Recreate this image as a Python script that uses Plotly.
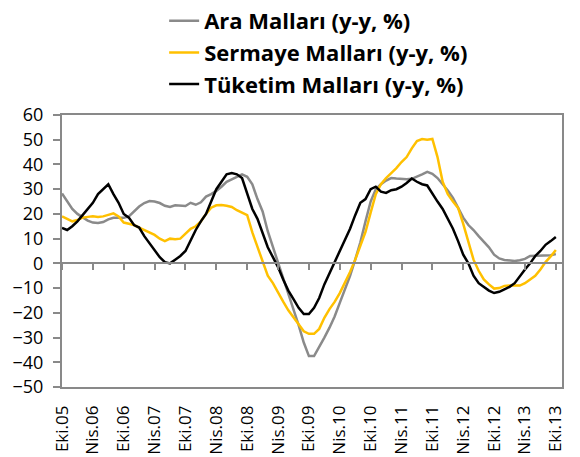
import plotly.graph_objects as go

# Monthly series, Oct 2005 - Oct 2013 (year-on-year % change)
month_labels = ["Eki.05", "Nis.06", "Eki.06", "Nis.07", "Eki.07", "Nis.08", "Eki.08",
                "Nis.09", "Eki.09", "Nis.10", "Eki.10", "Nis.11", "Eki.11", "Nis.12",
                "Eki.12", "Nis.13", "Eki.13"]

ara_mallari = [28.3, 25, 22, 20, 18.5, 17.3, 16.5, 16.3, 16.7, 17.8, 18.4, 18.5, 18.4, 19,
               21, 23, 24.4, 25.2, 25, 24.4, 23.3, 22.8, 23.5, 23.3, 23.2, 24.5, 23.7, 24.7,
               27, 28, 29.3, 31, 33, 34, 35, 36, 35, 32, 26, 21, 13, 6.7, 0, -6, -12, -18,
               -25, -32, -37.5, -37.5, -34, -30, -26, -21.5, -16, -10.5, -5, 1.5, 8.5, 17,
               25, 30, 32, 33.5, 34.5, 34.3, 34, 34, 34.2, 35, 36, 37, 36.2, 34.5, 32, 29.5,
               26.5, 22.5, 18.5, 15.5, 13.5, 11, 8.7, 6.5, 3.5, 2, 1.4, 1.2, 1, 1.3, 1.8, 3,
               3, 3, 3, 3.3, 3.8]

sermaye_mallari = [19, 18, 17, 17.5, 18.5, 18.8, 19, 18.8, 19, 19.6, 20.2, 19, 16.5, 16,
                   15.5, 14.5, 13.5, 12.7, 11.5, 10, 9, 10, 9.8, 10, 12, 14, 15, 17, 20,
                   22.5, 23.5, 23.6, 23.3, 22.8, 21.5, 20.4, 19.5, 12.5, 6.5, 0.5, -5, -8,
                   -12, -15.5, -19, -22, -25, -27.5, -28.5, -28.5, -26.5, -22, -18.5, -15.6,
                   -12, -8, -3.5, 1.5, 7.5, 12.7, 20.5, 28, 32, 34.5, 36.5, 38.5, 41, 43,
                   46.5, 49.5, 50.3, 50, 50.3, 43, 33, 28, 25, 22.4, 16, 9, 1.5, -3, -6.5,
                   -8.5, -10.2, -10, -9.1, -9, -9, -9, -8, -6.5, -5, -2.5, 0.5, 2.8, 5.4]

tuketim_mallari = [14.3, 13.5, 15, 17, 19.5, 22, 24.5, 28, 30, 32, 28, 24.5, 20, 18.5, 15.5,
                   14.5, 11, 8, 5.5, 2.5, 0.5, 0, 1.5, 3, 5, 9.5, 13.5, 17, 20, 25, 30, 33,
                   36, 36.5, 36, 34.5, 28, 22, 18, 12, 6.5, 2.5, -1.5, -6.5, -11, -14.5, -18,
                   -20.5, -20.5, -18, -14, -8.5, -4, 1, 5.5, 9.5, 14, 19.5, 24.5, 26, 30, 31,
                   29, 28.5, 29.6, 30, 31, 32.5, 34.3, 33, 32, 31.5, 28, 25, 22, 18, 14, 9,
                   3.5, 0, -5, -8, -9.5, -11, -12, -11.5, -10.5, -9.5, -8, -5, -2.5, 0, 3, 5,
                   7.5, 9, 10.7]

y_ticks = list(range(-50, 61, 10))

x_idx = list(range(len(ara_mallari)))
tick_pos = list(range(0, len(ara_mallari), 6))

FONT = "Open Sans"
AXIS_GRAY = "#898989"

fig = go.Figure()
series = [
    ("Ara Malları (y-y, %)", ara_mallari, "#8a8a8a"),
    ("Sermaye Malları (y-y, %)", sermaye_mallari, "#FFC000"),
    ("Tüketim Malları (y-y, %)", tuketim_mallari, "#000000"),
]
for name, vals, color in series:
    fig.add_trace(go.Scatter(x=x_idx, y=vals, name=name, mode="lines",
                             line=dict(color=color, width=2.5)))

# invisible trace on the overlay axis so the zero-line ticks get drawn
fig.add_trace(go.Scatter(x=[0, 96], y=[None, None], xaxis="x2", showlegend=False,
                         hoverinfo="skip"))

y_range = [-50, 60]
zero_pos = (0 - y_range[0]) / (y_range[1] - y_range[0])

fig.update_layout(
    width=580, height=457,
    margin=dict(l=62, r=18, t=115, b=70, autoexpand=False),
    paper_bgcolor="white", plot_bgcolor="white",
    font=dict(family=FONT, color="black"),
    showlegend=True,
    legend=dict(xref="container", yref="container", x=0.283, xanchor="left",
                y=1.01, yanchor="top", orientation="v",
                font=dict(family=FONT, size=22, color="black", weight="bold"),
                itemwidth=30, tracegroupgap=0, bgcolor="rgba(0,0,0,0)"),
    xaxis=dict(range=[0, 97.2], tickmode="array", tickvals=tick_pos, ticktext=month_labels,
               tickangle=-90, tickfont=dict(size=17, family=FONT), ticks="",
               ticklabelstandoff=10,
               showgrid=False, zeroline=False, showline=True, linecolor=AXIS_GRAY,
               linewidth=1.5, mirror=True),
    xaxis2=dict(range=[0, 97.2], overlaying="x", anchor="free", position=zero_pos,
                side="bottom", tickmode="array", tickvals=tick_pos, showticklabels=False,
                ticks="outside", ticklen=6, tickwidth=1.5, tickcolor=AXIS_GRAY,
                showgrid=False, zeroline=False, showline=True, linecolor=AXIS_GRAY,
                linewidth=2),
    yaxis=dict(range=y_range, tickmode="array", tickvals=y_ticks, ticks="outside",
               ticklen=7, tickwidth=1.5, tickcolor=AXIS_GRAY, ticklabelstandoff=6,
               tickfont=dict(size=18, family=FONT), showgrid=False, zeroline=False,
               showline=True, linecolor=AXIS_GRAY, linewidth=2, mirror=True),
)

fig.write_html("out.html")
